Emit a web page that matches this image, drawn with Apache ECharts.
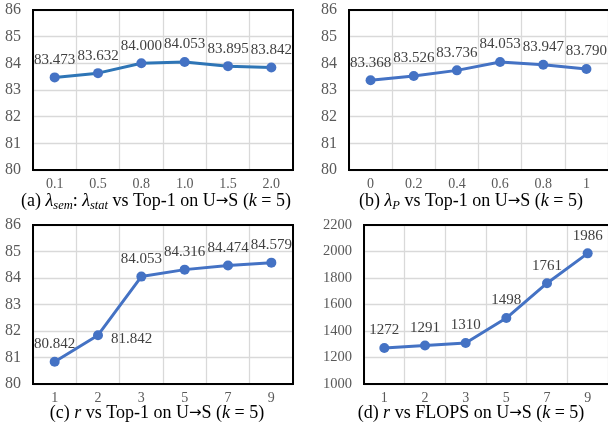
<!DOCTYPE html>
<html><head><meta charset="utf-8">
<script src="https://cdn.jsdelivr.net/npm/echarts@6/dist/echarts.min.js"></script>
<style>html,body{margin:0;padding:0;background:#fff}#c{width:608px;height:425px}</style>
</head><body><div id="c"></div>
<script>
const catsA = ['0.1','0.5','0.8','1.0','1.5','2.0'];
const valsA = [83.473, 83.632, 84.000, 84.053, 83.895, 83.842];
const catsB = ['0','0.2','0.4','0.6','0.8','1'];
const valsB = [83.368, 83.526, 83.736, 84.053, 83.947, 83.790];
const catsC = ['1','2','3','5','7','9'];
const valsC = [80.842, 81.842, 84.053, 84.316, 84.474, 84.579];
const catsD = ['1','2','3','5','7','9'];
const valsD = [1272, 1291, 1310, 1498, 1761, 1986];
const topRange = [80, 86, 1];
const flopsRange = [1000, 2200, 200];

const FONT = '"Liberation Serif", "Times New Roman", serif';
const chart = echarts.init(document.getElementById('c'));
const grids = [
  {left: 33, top: 10, width: 260, height: 160},
  {left: 349, top: 10, width: 260, height: 160},
  {left: 33, top: 225, width: 260, height: 159},
  {left: 364, top: 225, width: 245, height: 159}
];
const cats = [catsA, catsB, catsC, catsD];
const vals = [valsA, valsB, valsC, valsD];
const ranges = [topRange, topRange, topRange, flopsRange];

const xAxis = cats.map((c, i) => ({
  type: 'category', gridIndex: i, data: c, boundaryGap: true,
  axisLine: {show: false}, axisTick: {show: false},
  axisLabel: {color: '#595959', fontFamily: FONT, fontSize: 14, margin: 7},
  splitLine: {show: true, lineStyle: {color: '#d9d9d9', width: 1.3}}
}));
const yAxis = ranges.map((r, i) => ({
  type: 'value', gridIndex: i, min: r[0], max: r[1], interval: r[2],
  axisLine: {show: false}, axisTick: {show: false},
  axisLabel: {color: '#595959', fontFamily: FONT, fontSize: i === 3 ? 14.5 : 16, margin: 12,
    formatter: v => String(v)},
  splitLine: {show: true, lineStyle: {color: '#d9d9d9', width: 1.3}}
}));
const series = vals.map((v, i) => ({
  type: 'line', xAxisIndex: i, yAxisIndex: i, data: v,
  symbol: 'circle', symbolSize: 10,
  lineStyle: {color: i === 0 ? '#2E75B6' : '#4472C4', width: 3},
  itemStyle: {color: '#4472C4'},
  label: {
    show: true, position: 'top', distance: 5,
    color: '#404040', fontFamily: FONT, fontSize: 15,
    formatter: p => i === 3 ? String(p.value) : Number(p.value).toFixed(3)
  }
}));
// label of 81.842 sits to the right of its point in panel c
series[2].data = valsC.map((v, k) => k === 1 ? {value: v, label: {position: 'right', distance: 8, offset: [0, 4]}} : v);

const rich = {
  n: {fontFamily: FONT, fontSize: 18, color: '#000', lineHeight: 22},
  i: {fontFamily: FONT, fontSize: 18, fontStyle: 'italic', color: '#000', lineHeight: 22},
  a: {fontFamily: '"DejaVu Sans", sans-serif', fontSize: 15, color: '#000', lineHeight: 22},
  s: {fontFamily: FONT, fontSize: 12.5, fontStyle: 'italic', color: '#000', lineHeight: 14, verticalAlign: 'bottom'}
};
const titles = [
  {x: 156, y: 201, text: '{n|(a) }{i|λ}{s|sem}{n|: }{i|λ}{s|stat}{n| vs Top-1 on U}{a|→}{n|S (}{i|k}{n| = 5)}'},
  {x: 471, y: 201, text: '{n|(b) }{i|λ}{s|P}{n| vs Top-1 on U}{a|→}{n|S (}{i|k}{n| = 5)}'},
  {x: 157, y: 413, text: '{n|(c) }{i|r}{n| vs Top-1 on U}{a|→}{n|S (}{i|k}{n| = 5)}'},
  {x: 471, y: 413, text: '{n|(d) }{i|r}{n| vs FLOPS on U}{a|→}{n|S (}{i|k}{n| = 5)}'}
];
const graphic = titles.map(t => ({
  type: 'text', x: t.x, y: t.y, z: 10,
  style: {text: t.text, rich: rich, align: 'center', verticalAlign: 'middle', font: '18px ' + FONT, fill: '#000'}
}));
grids.forEach(g => {
  graphic.push({type: 'rect', z: 5, silent: true,
    shape: {x: g.left, y: g.top, width: g.width, height: g.height},
    style: {fill: 'none', stroke: '#000', lineWidth: 2}});
});

chart.setOption({
  animation: false,
  grid: grids,
  xAxis: xAxis,
  yAxis: yAxis,
  series: series,
  graphic: graphic
});
</script></body></html>
